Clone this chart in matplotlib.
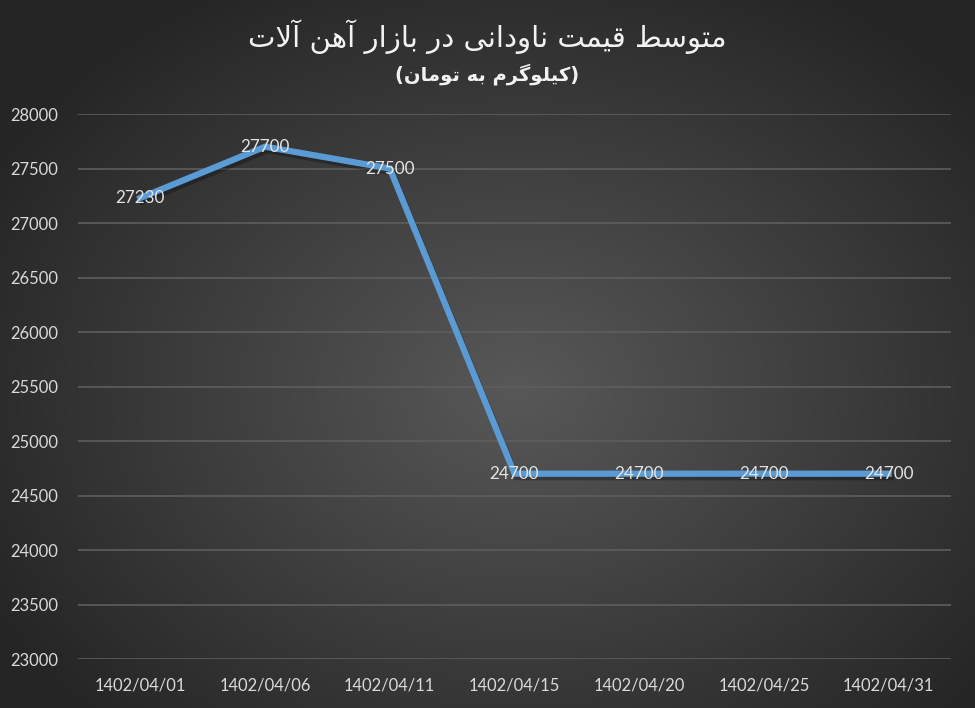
import numpy as np
import matplotlib
matplotlib.use("Agg")
import matplotlib.pyplot as plt
import matplotlib.patheffects as pe

# ---------------- data ----------------
dates = ["1402/04/01", "1402/04/06", "1402/04/11", "1402/04/15",
         "1402/04/20", "1402/04/25", "1402/04/31"]
prices = [27230, 27700, 27500, 24700, 24700, 24700, 24700]
y_ticks = [23000, 23500, 24000, 24500, 25000, 25500, 26000, 26500,
           27000, 27500, 28000]
title_text = "متوسط قیمت ناودانی در بازار آهن آلات"
subtitle_text = "(کیلوگرم به تومان)"

# ---------------- simple Persian shaping ----------------
FORMS = {
    'ا': ('\uFE8D', '\uFE8E', None, None),
    'آ': ('\uFE81', '\uFE82', None, None),
    'ب': ('\uFE8F', '\uFE90', '\uFE91', '\uFE92'),
    'ت': ('\uFE95', '\uFE96', '\uFE97', '\uFE98'),
    'د': ('\uFEA9', '\uFEAA', None, None),
    'ر': ('\uFEAD', '\uFEAE', None, None),
    'ز': ('\uFEAF', '\uFEB0', None, None),
    'س': ('\uFEB1', '\uFEB2', '\uFEB3', '\uFEB4'),
    'ط': ('\uFEC1', '\uFEC2', '\uFEC3', '\uFEC4'),
    'ق': ('\uFED5', '\uFED6', '\uFED7', '\uFED8'),
    'ل': ('\uFEDD', '\uFEDE', '\uFEDF', '\uFEE0'),
    'م': ('\uFEE1', '\uFEE2', '\uFEE3', '\uFEE4'),
    'ن': ('\uFEE5', '\uFEE6', '\uFEE7', '\uFEE8'),
    'ه': ('\uFEE9', '\uFEEA', '\uFEEB', '\uFEEC'),
    'و': ('\uFEED', '\uFEEE', None, None),
    'ی': ('\uFBFC', '\uFBFD', '\uFBFE', '\uFBFF'),
    'ک': ('\uFB8E', '\uFB8F', '\uFB90', '\uFB91'),
    'گ': ('\uFB92', '\uFB93', '\uFB94', '\uFB95'),
}
LAM_ALEF = {'ا': ('\uFEFB', '\uFEFC'), 'آ': ('\uFEF5', '\uFEF6')}


def joins_left(c):
    return c in FORMS and FORMS[c][2] is not None


def shape(text):
    chars = list(text)
    out = []
    i = 0
    n = len(chars)
    while i < n:
        c = chars[i]
        prev = chars[i - 1] if i > 0 else ''
        prev_joins = joins_left(prev) if prev else False
        if c == 'ل' and i + 1 < n and chars[i + 1] in LAM_ALEF:
            iso, fin = LAM_ALEF[chars[i + 1]]
            out.append(fin if prev_joins else iso)
            i += 2
            continue
        if c not in FORMS:
            out.append(c)
            i += 1
            continue
        iso, fin, ini, med = FORMS[c]
        nxt = chars[i + 1] if i + 1 < n else ''
        next_joins = nxt in FORMS and ini is not None
        if prev_joins and next_joins:
            out.append(med)
        elif prev_joins:
            out.append(fin)
        elif next_joins:
            out.append(ini)
        else:
            out.append(iso)
        i += 1
    s = ''.join(out)[::-1]
    s = s.translate(str.maketrans({'(': ')', ')': '('}))
    return s


# ---------------- figure ----------------
W, H = 975, 708
fig = plt.figure(figsize=(W / 100, H / 100), dpi=100)

# radial gradient background
bg = fig.add_axes([0, 0, 1, 1], zorder=-10)
yy, xx = np.mgrid[0:H, 0:W]
cx, cy = W * 0.53, H * 0.55
r = np.sqrt(((xx - cx) / (W * 0.62)) ** 2 + ((yy - cy) / (H * 0.66)) ** 2)
r = np.clip(r, 0, 1)
inner = np.array([0x58, 0x58, 0x58]) / 255
outer = np.array([0x25, 0x25, 0x25]) / 255
img = inner[None, None, :] * (1 - r[..., None]) + outer[None, None, :] * r[..., None]
bg.imshow(img, aspect='auto', extent=[0, 1, 0, 1], origin='upper')
bg.set_axis_off()

ax = fig.add_axes([78 / W, 1 - 659 / H, (951 - 78) / W, (659 - 114) / H])
ax.patch.set_alpha(0)

x = np.arange(len(dates))
line_col = '#5B9BD5'
ax.plot(x, prices, color=line_col, lw=4.5, solid_joinstyle='miter', zorder=3,
        path_effects=[pe.SimpleLineShadow(offset=(1.5, -2.5), shadow_color='black', alpha=0.28, rho=1),
                      pe.Normal()])

for xi, v in zip(x, prices):
    ax.text(xi, v, f"{v}", ha='center', va='center', color='#e3e3e3',
            fontsize=12.3, family='Lato', zorder=4)

ax.set_xlim(-0.5, len(dates) - 0.5)
ax.set_ylim(23000, 28000)
ax.set_yticks(y_ticks)
ax.set_yticklabels([str(t) for t in y_ticks])
ax.set_xticks(x)
ax.set_xticklabels(dates)
ax.tick_params(axis='both', length=0, colors='#d9d9d9', labelsize=11.9)
ax.tick_params(axis='y', pad=14)
ax.tick_params(axis='x', pad=13)
for lab in ax.get_xticklabels() + ax.get_yticklabels():
    lab.set_family('Lato')
ax.grid(axis='y', color='#5e5e5e', lw=1.2)
ax.set_axisbelow(True)
for s in ax.spines.values():
    s.set_visible(False)

fig.text(0.5, 1 - 37 / H, shape(title_text), ha='center', va='center',
         color='#f2f2f2', fontsize=21, family='DejaVu Sans')
fig.text(0.5, 1 - 74 / H, shape(subtitle_text), ha='center', va='center',
         color='#f2f2f2', fontsize=14, fontweight='bold', family='DejaVu Sans')

fig.savefig('out.png', dpi=100)
